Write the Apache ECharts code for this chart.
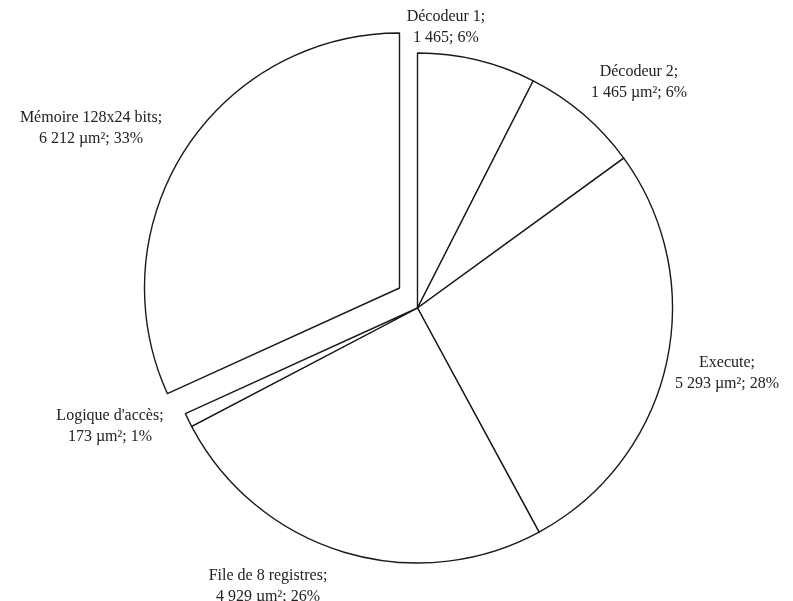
<!DOCTYPE html>
<html>
<head>
<meta charset="utf-8">
<script src="https://cdn.jsdelivr.net/npm/echarts@6/dist/echarts.min.js"></script>
<style>
  html, body { margin: 0; padding: 0; background: #ffffff; }
  #chart { width: 793px; height: 601px; }
</style>
</head>
<body>
<div id="chart"></div>
<script>
// Silicon area breakdown of the processor blocks (µm²)
const categories = ['Décodeur 1', 'Décodeur 2', 'Execute', 'File de 8 registres', "Logique d'accès", 'Mémoire 128x24 bits'];
const areas = [1465, 1465, 5293, 4929, 173, 6212];
const shownPercents = [6, 6, 28, 26, 1, 33];
const units = ['', ' µm²', ' µm²', ' µm²', ' µm²', ' µm²'];
const explodedSlices = ['Mémoire 128x24 bits'];

// Label block centres (page pixels), one per slice
const labelAnchors = [
  [446, 27],
  [639, 82],
  [727, 373],
  [268, 586],
  [110, 426],
  [91, 128]
];

const pieCenter = [417.5, 308];
const explodeShift = [-18, -20];
const pieRadius = 255;

function formatThousands(v) {
  return String(v).replace(/\B(?=(\d{3})+(?!\d))/g, ' ');
}

const outline = { color: '#ffffff', borderColor: '#1a1a1a', borderWidth: 1.4 };
const hidden = { color: 'rgba(0,0,0,0)', borderWidth: 0 };

// One pie layer: either the slices in place, or the pulled-out slices
function pieLayer(isExplodedLayer) {
  return {
    type: 'pie',
    center: isExplodedLayer
      ? [pieCenter[0] + explodeShift[0], pieCenter[1] + explodeShift[1]]
      : pieCenter,
    radius: pieRadius,
    startAngle: 90,
    clockwise: true,
    silent: true,
    avoidLabelOverlap: false,
    emphasis: { disabled: true },
    labelLine: { show: false },
    label: {
      show: true,
      position: 'outside',
      fontFamily: 'Liberation Serif',
      fontSize: 16,
      lineHeight: 21,
      color: '#222222',
      align: 'center',
      formatter: function (p) {
        const i = p.dataIndex;
        return categories[i] + ';\n' + formatThousands(areas[i]) + units[i] + '; ' + shownPercents[i] + '%';
      }
    },
    labelLayout: function (params) {
      const a = labelAnchors[params.dataIndex];
      return { x: a[0], y: a[1], align: 'center', verticalAlign: 'middle' };
    },
    data: categories.map(function (name, i) {
      const pulled = explodedSlices.indexOf(name) >= 0;
      const visible = pulled === isExplodedLayer;
      return {
        name: name,
        value: areas[i],
        itemStyle: visible ? outline : hidden,
        label: { show: visible }
      };
    })
  };
}

const chart = echarts.init(document.getElementById('chart'), null, { renderer: 'canvas' });

chart.setOption({
  backgroundColor: '#ffffff',
  animation: false,
  series: [pieLayer(false), pieLayer(true)]
});
</script>
</body>
</html>
